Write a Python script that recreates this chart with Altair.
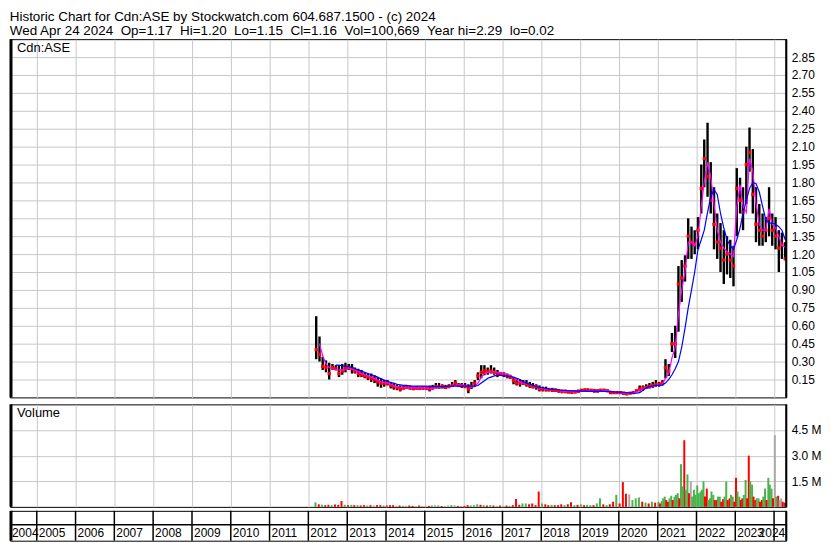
import altair as alt
import pandas as pd

FONT = "Liberation Sans"
GRID = "#c8c8c8"

HEADER_1 = "Historic Chart for Cdn:ASE by Stockwatch.com 604.687.1500 - (c) 2024"
HEADER_2 = "\u00a0\u00a0".join(["Wed Apr 24 2024", "Op=1.17", "Hi=1.20", "Lo=1.15", "Cl=1.16",
                                "Vol=100,669", "Year hi=2.29", "lo=0.02"])
SYMBOL = "Cdn:ASE"
VOLUME_LABEL = "Volume"

price_ticks = [0.15, 0.30, 0.45, 0.60, 0.75, 0.90, 1.05, 1.20, 1.35, 1.50, 1.65, 1.80,
               1.95, 2.10, 2.25, 2.40, 2.55, 2.70, 2.85]
volume_ticks = [1.5, 3.0, 4.5]
year_labels = [str(y) for y in range(2004, 2025)]

# ---- monthly price readings (Mar 2012 .. Apr 2024) ----
hi_2012 = [0.68, 0.51, 0.34, 0.31, 0.29, 0.28, 0.27, 0.27, 0.28, 0.29]
hi_2013 = [0.28, 0.28, 0.25, 0.24, 0.23, 0.21, 0.20, 0.20, 0.185, 0.17, 0.16, 0.145]
hi_2014 = [0.145, 0.13, 0.12, 0.11, 0.10, 0.10, 0.10, 0.10, 0.09, 0.095, 0.09, 0.09]
hi_2015 = [0.09, 0.10, 0.105, 0.12, 0.12, 0.11, 0.105, 0.11, 0.13, 0.145, 0.12, 0.12]
hi_2016 = [0.12, 0.11, 0.13, 0.145, 0.21, 0.27, 0.27, 0.25, 0.27, 0.25, 0.23, 0.21]
hi_2017 = [0.21, 0.20, 0.19, 0.17, 0.16, 0.15, 0.145, 0.145, 0.13, 0.12, 0.11, 0.10]
hi_2018 = [0.09, 0.09, 0.08, 0.08, 0.075, 0.07, 0.065, 0.065, 0.055, 0.055, 0.055, 0.065]
hi_2019 = [0.07, 0.075, 0.075, 0.07, 0.07, 0.065, 0.07, 0.07, 0.065, 0.05, 0.045, 0.05]
hi_2020 = [0.045, 0.045, 0.035, 0.045, 0.045, 0.065, 0.10, 0.10, 0.11, 0.12, 0.13, 0.145]
hi_2021 = [0.13, 0.145, 0.32, 0.28, 0.54, 0.60, 1.10, 1.15, 1.19, 1.50, 1.43, 1.40]
hi_2022 = [1.51, 1.95, 2.16, 2.30, 1.97, 1.76, 1.54, 1.46, 1.40, 1.35, 1.32, 1.27]
hi_2023 = [1.92, 1.84, 1.76, 2.10, 2.26, 2.08, 1.76, 1.62, 1.54, 1.51, 1.76, 1.54]
hi_2024 = [1.51, 1.40, 1.38, 1.30]

lo_2012 = [0.32, 0.30, 0.23, 0.21, 0.15, 0.23, 0.23, 0.17, 0.19, 0.21]
lo_2013 = [0.23, 0.20, 0.20, 0.17, 0.17, 0.16, 0.145, 0.13, 0.12, 0.09, 0.08, 0.09]
lo_2014 = [0.10, 0.075, 0.065, 0.06, 0.05, 0.065, 0.07, 0.065, 0.06, 0.065, 0.065, 0.065]
lo_2015 = [0.065, 0.05, 0.065, 0.075, 0.075, 0.075, 0.07, 0.08, 0.09, 0.10, 0.09, 0.08]
lo_2016 = [0.08, 0.035, 0.07, 0.09, 0.145, 0.16, 0.185, 0.19, 0.20, 0.19, 0.17, 0.18]
lo_2017 = [0.17, 0.16, 0.155, 0.11, 0.10, 0.09, 0.105, 0.09, 0.08, 0.075, 0.065, 0.05]
lo_2018 = [0.05, 0.05, 0.05, 0.045, 0.045, 0.04, 0.035, 0.035, 0.035, 0.03, 0.035, 0.04]
lo_2019 = [0.045, 0.045, 0.05, 0.045, 0.04, 0.04, 0.045, 0.05, 0.045, 0.03, 0.03, 0.035]
lo_2020 = [0.03, 0.02, 0.02, 0.03, 0.03, 0.045, 0.05, 0.055, 0.07, 0.075, 0.08, 0.09]
lo_2021 = [0.09, 0.10, 0.16, 0.18, 0.38, 0.33, 0.55, 0.80, 0.97, 1.16, 1.16, 1.20]
lo_2022 = [1.24, 1.54, 1.76, 1.68, 1.54, 1.24, 1.16, 1.05, 0.95, 1.03, 1.00, 0.93]
lo_2023 = [1.35, 1.54, 1.40, 1.62, 1.89, 1.54, 1.30, 1.27, 1.27, 1.30, 1.35, 1.27]
lo_2024 = [1.24, 1.05, 1.16, 1.15]

cl_2012 = [0.40, 0.36, 0.26, 0.25, 0.20, 0.25, 0.24, 0.20, 0.22, 0.25]
cl_2013 = [0.25, 0.24, 0.22, 0.20, 0.19, 0.18, 0.17, 0.16, 0.15, 0.13, 0.12, 0.12]
cl_2014 = [0.12, 0.10, 0.09, 0.08, 0.07, 0.08, 0.085, 0.08, 0.075, 0.08, 0.075, 0.08]
cl_2015 = [0.075, 0.07, 0.08, 0.09, 0.085, 0.09, 0.085, 0.09, 0.10, 0.12, 0.10, 0.10]
cl_2016 = [0.09, 0.07, 0.09, 0.12, 0.18, 0.21, 0.22, 0.22, 0.22, 0.21, 0.20, 0.20]
cl_2017 = [0.19, 0.18, 0.17, 0.14, 0.12, 0.12, 0.12, 0.11, 0.10, 0.09, 0.09, 0.07]
cl_2018 = [0.07, 0.065, 0.065, 0.06, 0.06, 0.055, 0.05, 0.05, 0.045, 0.045, 0.045, 0.05]
cl_2019 = [0.06, 0.06, 0.06, 0.06, 0.055, 0.055, 0.06, 0.06, 0.055, 0.04, 0.04, 0.04]
cl_2020 = [0.04, 0.035, 0.03, 0.035, 0.04, 0.055, 0.07, 0.08, 0.085, 0.09, 0.10, 0.11]
cl_2021 = [0.11, 0.12, 0.25, 0.22, 0.45, 0.45, 0.95, 1.00, 1.10, 1.35, 1.30, 1.28]
cl_2022 = [1.40, 1.75, 2.00, 1.85, 1.65, 1.45, 1.30, 1.25, 1.15, 1.20, 1.15, 1.10]
cl_2023 = [1.75, 1.65, 1.55, 1.95, 2.05, 1.70, 1.45, 1.40, 1.35, 1.40, 1.50, 1.40]
cl_2024 = [1.35, 1.25, 1.28, 1.16]

# magenta (short) moving average
fast_2012 = [None, 0.45, 0.35, 0.28, 0.25, 0.24, 0.23, 0.23, 0.23, 0.23]
fast_2013 = [0.24, 0.24, 0.23, 0.22, 0.20, 0.19, 0.18, 0.17, 0.16, 0.145, 0.13, 0.125]
fast_2014 = [0.12, 0.11, 0.10, 0.09, 0.085, 0.08, 0.08, 0.08, 0.08, 0.08, 0.08, 0.08]
fast_2015 = [0.08, 0.075, 0.075, 0.08, 0.085, 0.09, 0.09, 0.09, 0.095, 0.10, 0.105, 0.10]
fast_2016 = [0.10, 0.09, 0.085, 0.09, 0.12, 0.17, 0.20, 0.21, 0.215, 0.215, 0.21, 0.205]
fast_2017 = [0.20, 0.19, 0.18, 0.165, 0.145, 0.13, 0.12, 0.115, 0.11, 0.10, 0.09, 0.08]
fast_2018 = [0.075, 0.07, 0.065, 0.065, 0.06, 0.058, 0.055, 0.052, 0.05, 0.048, 0.047, 0.048]
fast_2019 = [0.05, 0.055, 0.058, 0.06, 0.058, 0.057, 0.057, 0.058, 0.058, 0.052, 0.045, 0.042]
fast_2020 = [0.04, 0.038, 0.035, 0.035, 0.037, 0.045, 0.06, 0.07, 0.08, 0.085, 0.09, 0.10]
fast_2021 = [0.105, 0.11, 0.16, 0.20, 0.33, 0.42, 0.70, 0.90, 1.05, 1.30, 1.30, 1.27]
fast_2022 = [1.35, 1.60, 1.80, 1.97, 1.85, 1.62, 1.40, 1.30, 1.25, 1.22, 1.20, 1.18]
fast_2023 = [1.60, 1.78, 1.60, 1.55, 2.00, 1.90, 1.62, 1.45, 1.40, 1.40, 1.58, 1.45]
fast_2024 = [1.42, 1.35, 1.27, 1.26]

# blue (long) moving average
slow_2012 = [None, None, None, None, None, None, 0.27, 0.27, 0.265, 0.26]
slow_2013 = [0.26, 0.25, 0.24, 0.23, 0.22, 0.21, 0.20, 0.19, 0.18, 0.17, 0.155, 0.145]
slow_2014 = [0.135, 0.125, 0.12, 0.11, 0.105, 0.10, 0.10, 0.095, 0.095, 0.095, 0.095, 0.095]
slow_2015 = [0.095, 0.09, 0.09, 0.09, 0.09, 0.09, 0.09, 0.095, 0.095, 0.095, 0.095, 0.095]
slow_2016 = [0.095, 0.095, 0.095, 0.095, 0.10, 0.12, 0.14, 0.16, 0.17, 0.18, 0.185, 0.185]
slow_2017 = [0.18, 0.18, 0.175, 0.17, 0.16, 0.15, 0.13, 0.12, 0.11, 0.10, 0.09, 0.085]
slow_2018 = [0.08, 0.075, 0.07, 0.068, 0.065, 0.062, 0.06, 0.058, 0.056, 0.055, 0.054, 0.053]
slow_2019 = [0.052, 0.052, 0.052, 0.052, 0.052, 0.052, 0.052, 0.051, 0.05, 0.048, 0.046, 0.045]
slow_2020 = [0.045, 0.043, 0.04, 0.038, 0.036, 0.035, 0.04, 0.06, 0.08, 0.09, 0.095, 0.10]
slow_2021 = [0.10, 0.105, 0.12, 0.15, 0.19, 0.24, 0.30, 0.42, 0.58, 0.75, 0.90, 1.05]
slow_2022 = [1.24, 1.32, 1.40, 1.55, 1.68, 1.74, 1.70, 1.54, 1.42, 1.32, 1.27, 1.24]
slow_2023 = [1.32, 1.42, 1.54, 1.65, 1.75, 1.80, 1.79, 1.72, 1.60, 1.49, 1.46, 1.46]
slow_2024 = [1.45, 1.43, 1.40, 1.32]

# ---- volume readings, millions (u = up, d = down, f = unchanged) ----
vol_2012 = [0.27, 0.15, 0.12, 0.10, 0.12, 0.10, 0.14, 0.12, 0.34, 0.12]
dir_2012 = "ududdudddu"
vol_2013 = [0.10, 0.12, 0.10, 0.10, 0.08, 0.10, 0.08, 0.10, 0.08, 0.10, 0.10, 0.08]
dir_2013 = "dududdudfddu"
vol_2014 = [0.08, 0.10, 0.10, 0.06, 0.08, 0.06, 0.06, 0.08, 0.06, 0.05, 0.08, 0.06]
dir_2014 = "dddfdufddfdf"
vol_2015 = [0.05, 0.06, 0.08, 0.10, 0.08, 0.05, 0.06, 0.08, 0.10, 0.10, 0.06, 0.05]
dir_2015 = "fdufudffufdf"
vol_2016 = [0.06, 0.10, 0.08, 0.10, 0.15, 0.12, 0.10, 0.08, 0.10, 0.08, 0.06, 0.08]
dir_2016 = "dduuudududfd"
vol_2017 = [0.06, 0.08, 0.06, 0.10, 0.46, 0.12, 0.20, 0.20, 0.15, 0.20, 0.10, 0.90]
dir_2017 = "fduddduudddd"
vol_2018 = [0.20, 0.15, 0.10, 0.12, 0.10, 0.10, 0.15, 0.10, 0.15, 0.27, 0.10, 0.12]
dir_2018 = "udduddduddud"
vol_2019 = [0.15, 0.10, 0.12, 0.10, 0.10, 0.20, 0.50, 0.15, 0.10, 0.15, 0.30, 0.70]
dir_2019 = "uduuduududdu"
vol_2020 = [0.20, 1.45, 0.77, 0.73, 0.40, 0.50, 0.55, 0.30, 0.25, 0.20, 0.30, 0.25]
dir_2020 = "dddfuuududud"
vol_2021 = [0.30, 0.35, 0.60, 0.30, 0.65, 0.60, 0.80, 2.50, 3.90, 1.90, 1.50, 1.00]
dir_2021 = "uuuduuuudufu"
vol_2022 = [1.25, 0.90, 1.50, 1.07, 0.50, 0.70, 0.40, 0.60, 0.45, 1.48, 0.50, 0.60]
dir_2022 = "uuuduudududu"
vol_2023 = [1.70, 0.60, 0.50, 1.58, 3.00, 1.30, 0.40, 0.50, 0.40, 1.07, 1.70, 1.07]
dir_2023 = "dududududuuu"
vol_2024 = [4.20, 0.65, 0.50, 0.25]
dir_2024 = "fdfd"

# second bar of each month, Jan 2021 .. Apr 2024
vol2_2021 = [0.20, 0.50, 0.40, 0.50, 0.40, 0.70, 0.50, 1.20, 1.00, 0.80, 0.60, 0.70]
dir2_2021 = "dudududuuduu"
vol2_2022 = [0.80, 1.00, 0.60, 0.40, 0.90, 0.40, 0.60, 0.30, 0.60, 0.40, 0.70, 0.30]
dir2_2022 = "uuduudududud"
vol2_2023 = [0.90, 0.40, 0.70, 0.50, 1.50, 0.60, 0.50, 0.30, 0.60, 0.40, 1.30, 0.50]
dir2_2023 = "udududududud"
vol2_2024 = [0.60, 0.40, 0.30, 0.20]
dir2_2024 = "ufdu"

# ---------------- assemble tables ----------------
def cat(prefix):
    g = globals()
    out = []
    for y in range(2012, 2025):
        out += list(g[f"{prefix}_{y}"])
    return out

high, low, close = cat("hi"), cat("lo"), cat("cl")
fast, slow = cat("fast"), cat("slow")
months = pd.date_range("2012-03-01", periods=len(high), freq="MS")
for arr in (low, close, fast, slow):
    assert len(arr) == len(high), (len(arr), len(high))

price_df = pd.DataFrame({
    "date": (months + pd.Timedelta(days=14)).strftime("%Y-%m-%d"),
    "high": high, "low": low, "close": close, "fast": fast, "slow": slow,
})

DIR = {"u": "up", "d": "down", "f": "flat"}
vols, dirs = cat("vol"), "".join(cat("dir"))
assert len(vols) == len(months) == len(dirs)
vol_rows = [{"date": (m + pd.Timedelta(days=7)).strftime("%Y-%m-%d"), "vol": v, "dir": DIR[c]}
            for m, v, c in zip(months, vols, dirs)]
months2 = pd.date_range("2021-01-01", "2024-04-01", freq="MS")
vols2 = []
dirs2 = ""
for y in range(2021, 2025):
    vols2 += globals()[f"vol2_{y}"]
    dirs2 += globals()[f"dir2_{y}"]
assert len(vols2) == len(months2) == len(dirs2)
vol_rows += [{"date": (m + pd.Timedelta(days=21)).strftime("%Y-%m-%d"), "vol": v, "dir": DIR[c]}
             for m, v, c in zip(months2, vols2, dirs2)]
vol_df = pd.DataFrame(vol_rows)
vol_df["base"] = 0.0

year_df = pd.DataFrame({"date": [f"{y}-01-01" for y in range(2005, 2025)]})
label_df = pd.DataFrame({
    "label": year_labels[:-1],
    "date": ["2004-04-24"] + [f"{y}-01-01" for y in range(2005, 2024)],
})
last_label_df = pd.DataFrame({"label": [year_labels[-1]], "date": ["2024-04-24"]})

# ---------------- chart ----------------
W, H_PRICE, H_VOL, H_STRIP = 780, 360, 103, 30

x_domain = [alt.DateTime(year=2004, month=4, date=24, utc=True),
            alt.DateTime(year=2024, month=4, date=24, utc=True)]
xscale = alt.Scale(domain=x_domain, nice=False)
grid_values = [alt.DateTime(year=y, month=1, date=1, utc=True) for y in range(2005, 2025)]
x_axis = alt.Axis(values=grid_values, grid=True, gridColor=GRID, gridWidth=1,
                  labels=False, ticks=False, domain=False, title=None,
                  minExtent=0, maxExtent=0, offset=0)
X = alt.X("date:T", scale=xscale, axis=x_axis, title=None)
X_strip = alt.X("date:T", scale=xscale, axis=None)

pscale = alt.Scale(domain=[0, 3.0], nice=False, zero=True)
p_axis = alt.Axis(orient="right", values=price_ticks, format=".2f", grid=True, gridColor=GRID,
                  ticks=False, domain=False, labelPadding=5, title=None)
vscale = alt.Scale(domain=[0, 6.0], nice=False)
v_axis = alt.Axis(orient="right", values=volume_ticks, labelExpr="format(datum.value, '.1f') + ' M'",
                  grid=True, gridColor=GRID, ticks=False, domain=False, labelPadding=5, title=None)

one = alt.InlineData(values=[{"k": 0}])


def borders(h):
    left = alt.Chart(one).mark_rule(color="black", strokeWidth=3).encode(
        x=alt.value(1), y=alt.value(0), y2=alt.value(h))
    right = alt.Chart(one).mark_rule(color="black", strokeWidth=2).encode(
        x=alt.value(W), y=alt.value(0), y2=alt.value(h))
    return [left, right]


def corner_text(text):
    return alt.Chart(alt.InlineData(values=[{"t": text}])).mark_text(
        align="left", baseline="middle", font=FONT, fontSize=13, color="black"
    ).encode(x=alt.value(7), y=alt.value(9), text="t:N")


pbase = alt.Chart(price_df)
bars = pbase.mark_rule(color="black", strokeWidth=2.4).encode(
    x=X, y=alt.Y("low:Q", scale=pscale, axis=p_axis, title=None), y2="high:Q")
closes = pbase.mark_square(color="#ff0000", size=11, opacity=1).encode(
    x=X, y=alt.Y("close:Q", scale=pscale, axis=p_axis, title=None))
fast_line = pbase.mark_line(color="#ff00ff", strokeWidth=1.2).encode(
    x=X, y=alt.Y("fast:Q", scale=pscale, axis=p_axis, title=None))
slow_line = pbase.mark_line(color="#0000ff", strokeWidth=1.2).encode(
    x=X, y=alt.Y("slow:Q", scale=pscale, axis=p_axis, title=None))

price = alt.layer(bars, closes, fast_line, slow_line, corner_text(SYMBOL),
                  *borders(H_PRICE)).properties(width=W, height=H_PRICE)

vol_bars = alt.Chart(vol_df).mark_rule(strokeWidth=2).encode(
    x=X,
    y=alt.Y("vol:Q", scale=vscale, axis=v_axis, title=None),
    y2="base:Q",
    color=alt.Color("dir:N", scale=alt.Scale(domain=["up", "down", "flat"],
                                             range=["#4cb34c", "#ff0000", "#a8a8a8"]), legend=None),
)
volume = alt.layer(vol_bars, corner_text(VOLUME_LABEL), *borders(H_VOL)).properties(
    width=W, height=H_VOL)

vlines = alt.Chart(year_df).mark_rule(color="black", strokeWidth=1.5).encode(
    x=X_strip, y=alt.value(0), y2=alt.value(H_STRIP))
hline = alt.Chart(one).mark_rule(color="black", strokeWidth=1.5).encode(
    x=alt.value(0), x2=alt.value(W), y=alt.value(14))
labels = alt.Chart(label_df).mark_text(
    align="left", baseline="middle", dx=2, font=FONT, fontSize=12, color="black"
).encode(x=X_strip, y=alt.value(22), text="label:N")
last_label = alt.Chart(last_label_df).mark_text(
    align="right", baseline="middle", dx=-1, font=FONT, fontSize=12, color="black"
).encode(x=X_strip, y=alt.value(22), text="label:N")
strip = alt.layer(vlines, hline, labels, last_label, *borders(H_STRIP)).properties(
    width=W, height=H_STRIP)

chart = alt.vconcat(
    alt.vconcat(price, volume, spacing=3), strip, spacing=0
).properties(
    title=alt.TitleParams(text=[HEADER_1, HEADER_2], anchor="start", font=FONT, fontSize=13.5,
                          fontWeight="normal", color="black", lineHeight=14, offset=0, dx=1),
    padding=0,
    background="white",
).configure_view(
    stroke="black", strokeWidth=1
).configure_axis(
    labelFont=FONT, labelFontSize=12, labelColor="black"
)

chart.save("out.html", embed_options={"renderer": "svg", "actions": False})
